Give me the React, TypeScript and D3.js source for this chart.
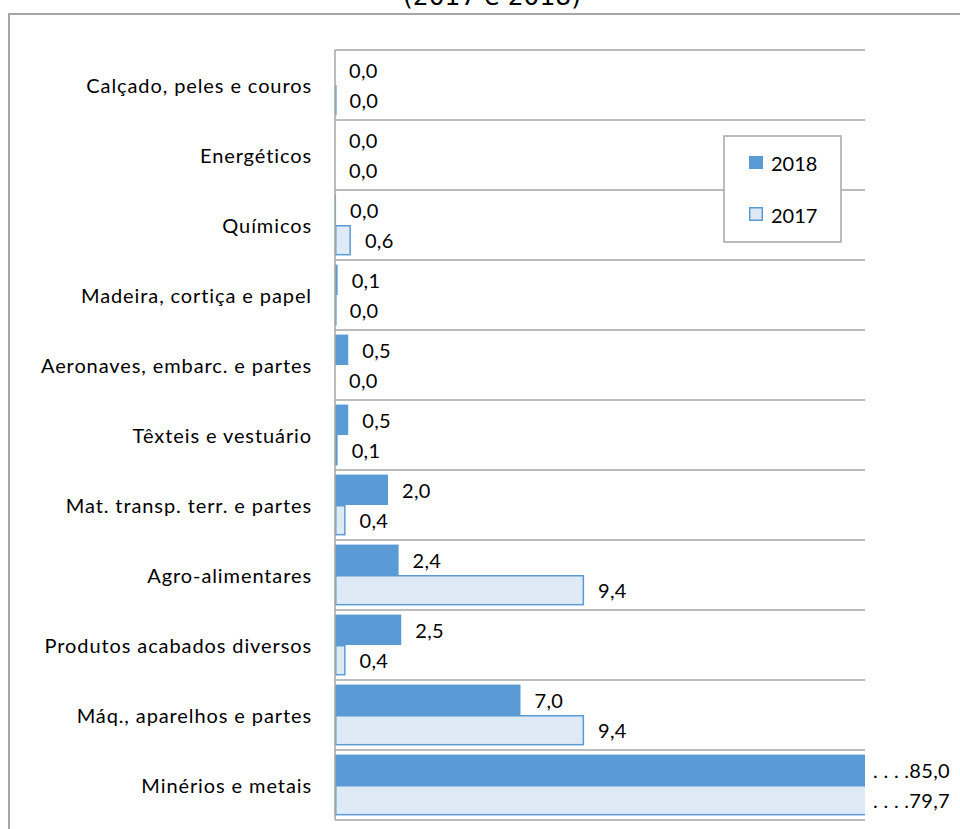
import React from "react";
import * as d3 from "d3";

const categories = [
  "Calçado, peles e couros",
  "Energéticos",
  "Químicos",
  "Madeira, cortiça e papel",
  "Aeronaves, embarc. e partes",
  "Têxteis e vestuário",
  "Mat. transp. terr. e partes",
  "Agro-alimentares",
  "Produtos acabados diversos",
  "Máq., aparelhos e partes",
  "Minérios e metais",
];
const values2018 = [0, 0, 0.04, 0.1, 0.5, 0.5, 2.0, 2.4, 2.5, 7.0, 85.0];
const values2017 = [0.02, 0, 0.6, 0.03, 0, 0.1, 0.4, 9.4, 0.4, 9.4, 79.7];
const seriesNames = ["2018", "2017"];
const xMax = 20;
const title = "(2017 e 2018)";

const W = 960;
const H = 829;
const FONT = "Lato, 'Open Sans', sans-serif";
const DARK = "#5B9BD5";
const LIGHT = "#DEEBF7";
const GRID = "#A6A6A6";

export default function App() {
  const x = d3.scaleLinear().domain([0, xMax]).range([335, 865]);
  const y = d3.scaleBand<string>().domain(categories).range([50, 820]).padding(0);
  const inner = d3
    .scaleBand<string>()
    .domain(seriesNames)
    .range([0, y.bandwidth()])
    .paddingOuter(0.15)
    .paddingInner(0);
  const fmt = (v: number) => d3.format(".1f")(v).replace(".", ",");
  const rows = categories.map((c, i) => ({ c, v: [values2018[i], values2017[i]] }));
  const gridYs = d3.range(categories.length + 1).map((i) => 50 + i * y.step());

  return (
    <svg
      width={W}
      height={H}
      style={{ position: "absolute", left: 0, top: 0, background: "#fff" }}
      fontFamily={FONT}
    >
      <defs>
        <clipPath id="plotclip">
          <rect x={x(0) - 2} y={40} width={x(xMax) - x(0) + 2} height={800} />
        </clipPath>
      </defs>
      <rect x={0} y={0} width={W} height={H} fill="#fff" />
      <text x={492} y={5} textAnchor="middle" fontFamily="'DejaVu Sans', sans-serif" fontSize={25} fill="#000">
        {title}
      </text>
      <rect x={9} y={14} width={1000} height={900} fill="none" stroke={GRID} strokeWidth={2} />

      {gridYs.map((gy, i) => (
        <line key={i} x1={x(0)} x2={x(xMax)} y1={gy} y2={gy} stroke={GRID} strokeWidth={1.5} />
      ))}

      <g clipPath="url(#plotclip)">
        {rows.map((r) =>
          r.v.map((v, j) => {
            const by = (y(r.c) as number) + (inner(seriesNames[j]) as number);
            const w = x(v) - x(0);
            if (v <= 0) return null;
            return j === 0 ? (
              <rect key={r.c + j} x={x(0)} y={by} width={w} height={inner.bandwidth()} fill={DARK} />
            ) : (
              <rect
                key={r.c + j}
                x={x(0) + 0.75}
                y={by + 0.75}
                width={Math.max(w - 1.5, 0.1)}
                height={inner.bandwidth() - 1.5}
                fill={LIGHT}
                stroke={DARK}
                strokeWidth={1.5}
              />
            );
          })
        )}
      </g>

      <line x1={x(0)} x2={x(0)} y1={50} y2={820} stroke={GRID} strokeWidth={1.5} />

      {rows.map((r) => (
        <text
          key={"lab" + r.c}
          x={312}
          y={(y(r.c) as number) + y.bandwidth() / 2}
          textAnchor="end"
          dominantBaseline="central"
          fontSize={20}
          letterSpacing={0.9}
          fill="#000"
        >
          {r.c}
        </text>
      ))}

      {rows.map((r) =>
        r.v.map((v, j) => {
          const by = (y(r.c) as number) + (inner(seriesNames[j]) as number) + inner.bandwidth() / 2;
          const clipped = v > xMax;
          const tx = clipped ? x(xMax) + 8 : x(v) + 14;
          return (
            <text
              key={"v" + r.c + j}
              x={tx}
              y={by}
              dominantBaseline="central"
              fontSize={20}
              letterSpacing={0.3}
              fill="#000"
            >
              {clipped ? ". . . ." + fmt(v) : fmt(v)}
            </text>
          );
        })
      )}

      <g>
        <rect x={724} y={136} width={117} height={106} fill="#fff" stroke={GRID} strokeWidth={1.5} />
        <rect x={749} y={156} width={14} height={13} fill={DARK} />
        <text x={771} y={162.5} dominantBaseline="central" fontSize={20} fill="#000">
          {seriesNames[0]}
        </text>
        <rect x={749.75} y={207.75} width={12.5} height={12.5} fill={LIGHT} stroke={DARK} strokeWidth={1.5} />
        <text x={771} y={215} dominantBaseline="central" fontSize={20} fill="#000">
          {seriesNames[1]}
        </text>
      </g>
    </svg>
  );
}
